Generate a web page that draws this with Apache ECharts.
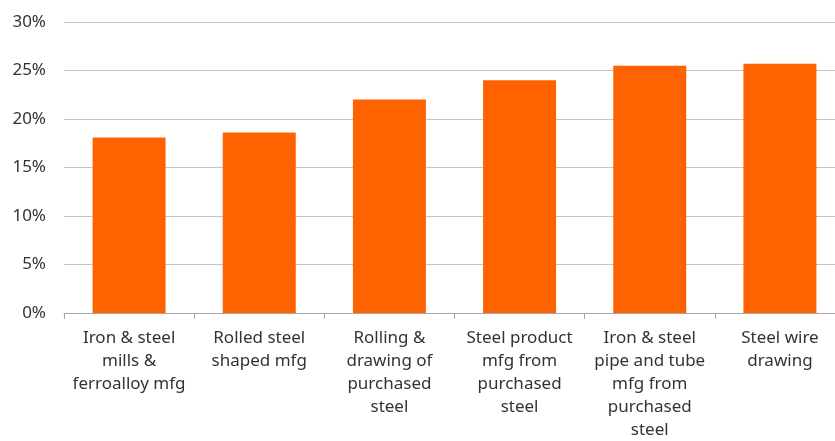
<!DOCTYPE html>
<html lang="en">
<head>
	<meta charset="UTF-8">
	<title>Steel</title>
	<style>
		html, body { margin: 0; padding: 0; background: #fff; }
	</style>
</head>
<body>
	<div id="main" style="width: 835px;height:441px;"></div>
</body>
</html>

<script src='https://cdnjs.cloudflare.com/ajax/libs/echarts/6.0.0/echarts.min.js'></script>
<script>
	var categories = [
		'Iron & steel\nmills &\nferroalloy mfg',
		'Rolled steel\nshaped mfg',
		'Rolling &\ndrawing of\npurchased\nsteel',
		'Steel product\nmfg from\npurchased\nsteel',
		'Iron & steel\npipe and tube\nmfg from\npurchased\nsteel',
		'Steel wire\ndrawing'
	];
	var values = [18.1, 18.6, 22.0, 24.0, 25.5, 25.7];
	var yTicks = [0, 5, 10, 15, 20, 25, 30];

	var myChart = echarts.init(document.getElementById('main'));
	var option = {
		animation: false,
		textStyle: { fontFamily: 'Noto Sans' },
		grid: { left: 64, top: 22, width: 781, height: 291, containLabel: false, outerBoundsMode: 'none' },
		xAxis: {
			type: 'category',
			data: categories,
			axisLine: { lineStyle: { color: '#a6a6a6', width: 1 } },
			axisTick: { show: true, length: 6, lineStyle: { color: '#a6a6a6' } },
			axisLabel: {
				interval: 0,
				color: '#333',
				fontSize: 17,
				lineHeight: 23,
				margin: 14
			}
		},
		yAxis: {
			type: 'value',
			min: yTicks[0],
			max: yTicks[yTicks.length - 1],
			interval: 5,
			axisLine: { show: false },
			axisTick: { show: false },
			splitLine: { lineStyle: { color: '#c4c4c4', width: 1 } },
			axisLabel: {
				color: '#333',
				fontSize: 17,
				margin: 18,
				formatter: '{value}%'
			}
		},
		series: [{
			type: 'bar',
			data: values,
			barWidth: 73,
			itemStyle: { color: '#ff6200' }
		}]
	};
	myChart.setOption(option);
</script>
